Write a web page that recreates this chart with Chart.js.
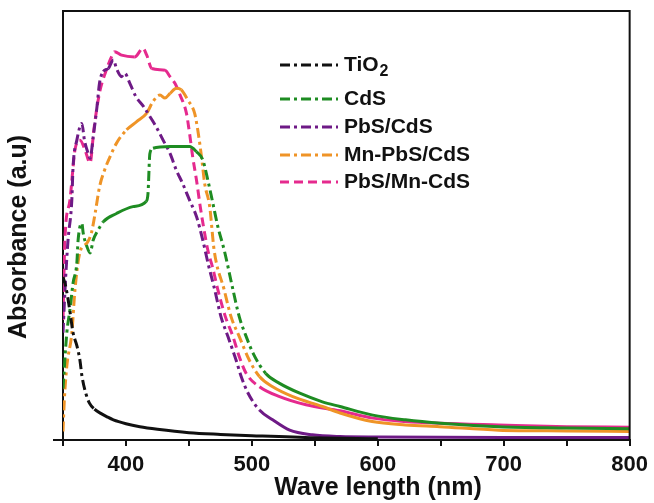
<!DOCTYPE html>
<html>
<head>
<meta charset="utf-8">
<script src="https://cdn.jsdelivr.net/npm/chart.js@4.4.1/dist/chart.umd.min.js"></script>
<style>
  html, body { margin: 0; padding: 0; background: #fff; }
  #wrap { width: 654px; height: 503px; }
</style>
</head>
<body>
<div id="wrap"><canvas id="uv" width="654" height="503"></canvas></div>
<script>
// --- 1. data (wavelength nm / absorbance a.u.) ---
const xTicks = [350, 400, 450, 500, 550, 600, 650, 700, 750, 800];

const tio2Nm  = [350, 352, 355, 358, 361, 363.5, 365, 368, 371, 375, 380, 385, 390, 400, 411, 425, 450, 475, 500, 550, 600];
const tio2Abs = [0.38, 0.36, 0.31, 0.25, 0.22, 0.185, 0.15, 0.11, 0.086, 0.072, 0.062, 0.054, 0.047, 0.038, 0.031, 0.025, 0.017, 0.013, 0.010, 0.005, 0.003];

const cdsNm  = [350, 353, 355.5, 358, 361, 362, 365, 366, 369, 371.5, 374, 378, 382, 392.5, 405.5, 416, 417.5, 419, 421.5, 435, 450.5, 456, 461, 465, 469, 473, 478, 485, 490, 495.5, 501, 511, 522, 538, 556, 570, 596, 622, 650, 696, 750, 800];
const cdsAbs = [0.12, 0.249, 0.303, 0.366, 0.413, 0.466, 0.505, 0.483, 0.451, 0.436, 0.466, 0.490, 0.509, 0.528, 0.544, 0.556, 0.575, 0.668, 0.680, 0.684, 0.684, 0.672, 0.653, 0.606, 0.552, 0.497, 0.443, 0.350, 0.287, 0.241, 0.202, 0.155, 0.132, 0.109, 0.089, 0.078, 0.058, 0.047, 0.039, 0.031, 0.028, 0.026];

const pbsNm  = [350, 352, 354, 357, 358, 361, 365, 367, 370, 371.5, 374, 377, 379, 382, 386, 390, 392.5, 396.5, 399, 403, 408, 414, 419, 424, 429.5, 435, 440, 445, 450.5, 456, 461, 465.5, 470.5, 475.5, 481, 487.5, 491.5, 497, 506, 516.5, 530, 548, 570, 600, 700, 800];
const pbsAbs = [0.25, 0.373, 0.466, 0.559, 0.637, 0.699, 0.738, 0.699, 0.668, 0.657, 0.707, 0.777, 0.832, 0.859, 0.866, 0.886, 0.866, 0.847, 0.855, 0.832, 0.800, 0.777, 0.754, 0.730, 0.699, 0.668, 0.629, 0.598, 0.559, 0.521, 0.466, 0.408, 0.350, 0.287, 0.241, 0.186, 0.148, 0.109, 0.070, 0.047, 0.023, 0.012, 0.008, 0.007, 0.006, 0.006];

const mnPbsNm  = [350, 351, 353, 357, 359.5, 363.5, 369, 372.5, 375.5, 379, 383, 388.5, 392.5, 400.5, 408.5, 416.5, 421.5, 427, 431, 435, 440, 444, 449, 454.5, 457, 460, 462.5, 466.5, 470, 478, 483.5, 490, 498, 506, 516.5, 532.5, 556, 570, 595.5, 622, 649, 696, 750, 800];
const mnPbsAbs = [0.02, 0.09, 0.171, 0.249, 0.350, 0.438, 0.459, 0.482, 0.528, 0.590, 0.629, 0.668, 0.692, 0.723, 0.742, 0.762, 0.789, 0.804, 0.797, 0.808, 0.820, 0.816, 0.793, 0.762, 0.723, 0.660, 0.598, 0.544, 0.443, 0.350, 0.287, 0.241, 0.186, 0.148, 0.124, 0.101, 0.078, 0.063, 0.043, 0.035, 0.031, 0.023, 0.021, 0.020];

const mnCdsNm  = [350, 351.5, 355.5, 359.5, 363.5, 367.5, 371.5, 374.5, 377, 379.5, 383.5, 388.5, 391, 396.5, 407, 413.5, 416.5, 420.5, 431, 435, 439, 443, 448, 450.5, 453, 456, 459, 462, 465, 469, 473, 479, 485, 490, 495.5, 506, 522, 543, 570, 596, 622, 649, 696, 750, 800];
const mnCdsAbs = [0.28, 0.466, 0.559, 0.676, 0.699, 0.676, 0.646, 0.723, 0.776, 0.816, 0.855, 0.893, 0.905, 0.897, 0.893, 0.913, 0.897, 0.866, 0.862, 0.847, 0.831, 0.804, 0.762, 0.715, 0.660, 0.606, 0.544, 0.490, 0.443, 0.400, 0.350, 0.287, 0.241, 0.194, 0.155, 0.124, 0.101, 0.082, 0.068, 0.051, 0.043, 0.039, 0.035, 0.031, 0.030];

// --- 2. look ---
const FONT = "'Liberation Sans', Arial, sans-serif";
const DASH_DOT = [10, 4, 3, 4];
const DASHED = [9, 5];

// Origin-style: dash pattern only shows where the curve is steep, flat parts look solid
function steep(ctx) {
    return Math.abs(ctx.p1.y - ctx.p0.y) > 0.9 * Math.abs(ctx.p1.x - ctx.p0.x);
}

function makeSet(label, xs, ys, color, dash) {
    return {
        label: label,
        data: xs.map((x, i) => ({ x: x, y: ys[i] })),
        borderColor: color,
        backgroundColor: color,
        borderWidth: 3,
        borderDash: dash,
        pointRadius: 0,
        cubicInterpolationMode: 'monotone',
        segment: { borderDash: ctx => steep(ctx) ? dash : [] }
    };
}

const datasets = [
    makeSet('TiO2', tio2Nm, tio2Abs, '#111111', DASH_DOT),
    makeSet('CdS', cdsNm, cdsAbs, '#1e8c22', DASH_DOT),
    makeSet('PbS/CdS', pbsNm, pbsAbs, '#6e1a86', DASH_DOT),
    makeSet('Mn-PbS/CdS', mnPbsNm, mnPbsAbs, '#ef9427', DASH_DOT),
    makeSet('PbS/Mn-CdS', mnCdsNm, mnCdsAbs, '#e52a8e', DASHED)
];

// --- 3. frame, legend and axis titles ---
const decor = {
    id: 'decor',
    afterDraw(chart) {
        const c = chart.ctx;
        const a = chart.chartArea;
        c.save();
        // top and right border
        c.strokeStyle = '#111';
        c.lineWidth = 2;
        c.setLineDash([]);
        c.beginPath();
        c.moveTo(a.left, a.top);
        c.lineTo(a.right, a.top);
        c.lineTo(a.right, a.bottom);
        c.stroke();

        // legend
        const rows = [65, 99, 127, 155, 182];
        c.textBaseline = 'middle';
        c.textAlign = 'left';
        chart.data.datasets.forEach((ds, i) => {
            const y = rows[i];
            c.strokeStyle = ds.borderColor;
            c.lineWidth = 3;
            c.setLineDash(ds.borderDash);
            c.beginPath();
            c.moveTo(280, y);
            c.lineTo(338, y);
            c.stroke();
            c.fillStyle = '#111';
            c.font = 'bold 21px ' + FONT;
            if (ds.label === 'TiO2') {
                c.fillText('TiO', 344, y);
                const w = c.measureText('TiO').width;
                c.font = 'bold 16px ' + FONT;
                c.fillText('2', 344 + w + 1, y + 7);
            } else {
                c.fillText(ds.label, 344, y);
            }
        });

        // axis titles
        c.setLineDash([]);
        c.fillStyle = '#111';
        c.font = 'bold 25px ' + FONT;
        c.textAlign = 'center';
        c.fillText('Wave length (nm)', 378, 488);
        c.translate(19, 237);
        c.rotate(-Math.PI / 2);
        c.fillText('Absorbance (a.u)', 0, 0);
        c.restore();
    }
};

// --- 4. chart ---
new Chart(document.getElementById('uv'), {
    type: 'line',
    data: { datasets: datasets },
    plugins: [decor],
    options: {
        responsive: false,
        animation: false,
        layout: { padding: { top: 11, right: 21, left: 0, bottom: 0 } },
        plugins: { legend: { display: false }, tooltip: { enabled: false } },
        scales: {
            x: {
                type: 'linear',
                min: 350,
                max: 800,
                afterBuildTicks: s => { s.ticks = xTicks.map(v => ({ value: v })); },
                afterFit: s => { s.height = 63; },
                border: { display: true, color: '#111', width: 2 },
                grid: { drawOnChartArea: false, drawTicks: true, tickLength: 6, color: '#111', lineWidth: 2 },
                ticks: {
                    color: '#111',
                    padding: 6,
                    maxRotation: 0,
                    autoSkip: false,
                    font: { family: FONT, size: 22, weight: 'bold' },
                    callback: v => (v % 100 === 0 ? v : '')
                }
            },
            y: {
                min: 0,
                max: 1,
                afterBuildTicks: s => { s.ticks = [{ value: 0 }]; },
                afterFit: s => { s.width = 63; },
                border: { display: true, color: '#111', width: 2 },
                grid: { drawOnChartArea: false, drawTicks: true, tickLength: 10, color: '#111', lineWidth: 2 },
                ticks: { display: true, callback: () => '', padding: 0 }
            }
        }
    }
});
</script>
</body>
</html>
